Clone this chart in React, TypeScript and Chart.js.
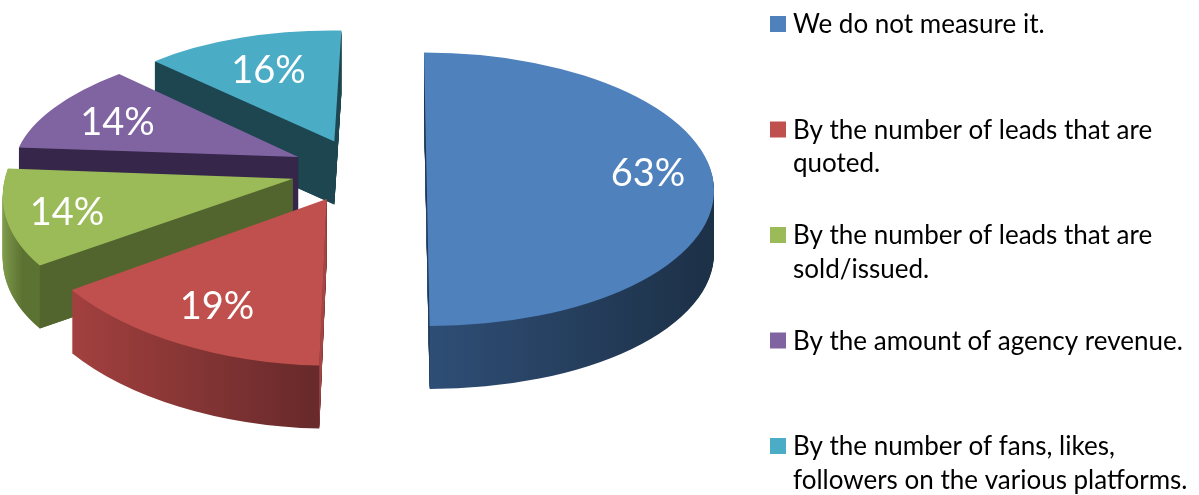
import React, { useEffect, useRef } from "react";
import { Chart, registerables } from "chart.js";

Chart.register(...registerables);

// Survey answers; respondents could choose several, so shares do not total 100.
const categories: string[][] = [
  ["We do not measure it."],
  ["By the number of leads that are", "quoted."],
  ["By the number of leads that are", "sold/issued."],
  ["By the amount of agency revenue."],
  ["By the number of fans, likes,", "followers on the various platforms."],
];
const values = [63, 19, 14, 14, 16];

const topColors = ["#4f81bd", "#c0504d", "#9bbb59", "#8064a2", "#4bacc6"];
const wallLight = ["#2f4e76", "#a4413f", "#8aa853", "#4a3a60", "#2a6474"];
const wallDark = ["#1c3046", "#692a2b", "#5c7232", "#2f2140", "#1c404b"];
const cutColors = ["#1d3550", "#a44744", "#53652f", "#35264a", "#1e4651"];
const labelReach = [0.77, 0.74, 0.79, 0.74, 0.7];

// Projection of the pie plane onto the canvas.
const VIEW = {
  vanishX: 400,
  centerU: -41,
  centerY: 170,
  squash: 0.467,
  perspective: 4.9e-4,
  widenFront: 3.1e-4,
  widenBack: 4.3e-4,
  radius: 287,
  explode: 68,
  depth: 63,
  labelDrop: 4,
};

const FONT = "Lato, Carlito, sans-serif";
const LEGEND = { swatchX: 770, textX: 793, top: 16, step: 105.5, swatch: 16, line: 33.5, size: 26, drop: 17 };

type Pt = { x: number; y: number };

const project = (u: number, v: number): Pt => {
  const w = 1 / (1 - VIEW.perspective * v);
  const wx = 1 / (1 - (v > 0 ? VIEW.widenFront : VIEW.widenBack) * v);
  return { x: VIEW.vanishX + (VIEW.centerU + u) * wx, y: VIEW.centerY + VIEW.squash * v * w };
};

// Point of an exploded slice at polar position (angle, r), in plane coordinates.
const planePoint = (mid: number, angle: number, r: number) => ({
  u: VIEW.explode * Math.cos(mid) + r * Math.cos(angle),
  v: VIEW.explode * Math.sin(mid) + r * Math.sin(angle),
});

// Affine map sending the arc's canvas coordinates onto three projected points of its slice.
function sliceMatrix(el: any) {
  const mid = (el.startAngle + el.endAngle) / 2;
  const half = el.endAngle - el.startAngle > Math.PI * 0.9;
  const R = el.outerRadius;
  const refs: [number, number][] = [
    [el.startAngle, R],
    [el.endAngle, R],
    half ? [mid, R] : [mid, 0],
  ];
  const L = refs.map(([a, r]) => ({ x: el.x + r * Math.cos(a), y: el.y + r * Math.sin(a) }));
  const S = refs.map(([a, r]) => {
    const p = planePoint(mid, a, r);
    return project(p.u, p.v);
  });
  // A half pie keeps its rim centred between the two ends of the straight edge.
  if (half) S[2].y = (S[0].y + S[1].y) / 2;
  const l1 = { x: L[1].x - L[0].x, y: L[1].y - L[0].y };
  const l2 = { x: L[2].x - L[0].x, y: L[2].y - L[0].y };
  const s1 = { x: S[1].x - S[0].x, y: S[1].y - S[0].y };
  const s2 = { x: S[2].x - S[0].x, y: S[2].y - S[0].y };
  const det = l1.x * l2.y - l2.x * l1.y;
  const a = (s1.x * l2.y - s2.x * l1.y) / det;
  const c = (s2.x * l1.x - s1.x * l2.x) / det;
  const b = (s1.y * l2.y - s2.y * l1.y) / det;
  const d = (s2.y * l1.x - s1.y * l2.x) / det;
  return { a, b, c, d, e: S[0].x - a * L[0].x - c * L[0].y, f: S[0].y - b * L[0].x - d * L[0].y };
}

const exploded3d = {
  id: "exploded3d",
  // The slices are painted here so each can take its own perspective transform.
  beforeDatasetDraw(chart: any) {
    const ctx: CanvasRenderingContext2D = chart.ctx;
    const arcs: any[] = chart.getDatasetMeta(0).data;
    const mids = arcs.map((el) => (el.startAngle + el.endAngle) / 2);
    const order = arcs
      .map((el, i) => {
        const p = planePoint(mids[i], 0, 0);
        return { i, y: project(p.u, p.v).y };
      })
      .sort((p, q) => p.y - q.y);

    for (const { i } of order) {
      const el = arcs[i];
      const mid = mids[i];
      const R = el.outerRadius;
      const m = sliceMatrix(el);
      const base = el.options;

      // Horizontal extent of the rim sets the span of the wall shading.
      let minX = Infinity;
      let maxX = -Infinity;
      for (let t = 0; t <= 24; t++) {
        const a = el.startAngle + ((el.endAngle - el.startAngle) * t) / 24;
        const p = planePoint(mid, a, R);
        const s = project(p.u, p.v);
        minX = Math.min(minX, s.x);
        maxX = Math.max(maxX, s.x);
      }
      const det = m.a * m.d - m.b * m.c;
      const toLocal = (x: number, y: number): Pt => ({
        x: (m.d * (x - m.e) - m.c * (y - m.f)) / det,
        y: (m.a * (y - m.f) - m.b * (x - m.e)) / det,
      });
      const g0 = toLocal(minX, VIEW.centerY);
      const g1 = toLocal(maxX, VIEW.centerY);
      const wall = ctx.createLinearGradient(g0.x, g0.y, g1.x, g0.y);
      wall.addColorStop(0, wallLight[i]);
      wall.addColorStop(1, wallDark[i]);

      // Side wall: the slice stacked downward.
      el.options = { ...base, backgroundColor: wall, borderWidth: 0 };
      for (let d = VIEW.depth; d >= 1; d--) {
        ctx.save();
        ctx.translate(0, d);
        ctx.transform(m.a, m.b, m.c, m.d, m.e, m.f);
        el.draw(ctx);
        ctx.restore();
      }

      // Cut faces that turn toward the viewer.
      const apexP = planePoint(mid, 0, 0);
      const apex = project(apexP.u, apexP.v);
      const rimP = planePoint(mid, mid, R);
      const rimMid = project(rimP.u, rimP.v);
      for (const edgeAngle of [el.startAngle, el.endAngle]) {
        const p = planePoint(mid, edgeAngle, R);
        const e = project(p.u, p.v);
        const dx = e.x - apex.x;
        const dy = e.y - apex.y;
        const inner = dx * (rimMid.y - apex.y) - dy * (rimMid.x - apex.x);
        if (inner * -dx <= 0) continue;
        ctx.fillStyle = cutColors[i];
        ctx.beginPath();
        ctx.moveTo(apex.x, apex.y);
        ctx.lineTo(e.x, e.y);
        ctx.lineTo(e.x, e.y + VIEW.depth);
        ctx.lineTo(apex.x, apex.y + VIEW.depth);
        ctx.closePath();
        ctx.fill();
      }

      // Top surface.
      el.options = base;
      ctx.save();
      ctx.transform(m.a, m.b, m.c, m.d, m.e, m.f);
      el.draw(ctx);
      ctx.restore();
    }
    return false;
  },
  afterDatasetsDraw(chart: any) {
    const ctx: CanvasRenderingContext2D = chart.ctx;
    const arcs: any[] = chart.getDatasetMeta(0).data;
    ctx.save();
    // Percentages on the slices.
    ctx.fillStyle = "#ffffff";
    ctx.font = `38px ${FONT}`;
    ctx.textAlign = "center";
    ctx.textBaseline = "middle";
    arcs.forEach((el, i) => {
      const mid = (el.startAngle + el.endAngle) / 2;
      const p = planePoint(mid, mid, el.outerRadius * labelReach[i]);
      const s = project(p.u, p.v);
      ctx.fillText(`${values[i]}%`, s.x, s.y + VIEW.labelDrop);
    });
    // Legend column.
    ctx.textAlign = "left";
    ctx.textBaseline = "alphabetic";
    ctx.font = `${LEGEND.size}px ${FONT}`;
    categories.forEach((lines, i) => {
      const top = LEGEND.top + i * LEGEND.step;
      ctx.fillStyle = topColors[i];
      ctx.fillRect(LEGEND.swatchX, top, LEGEND.swatch, LEGEND.swatch);
      ctx.fillStyle = "#000000";
      lines.forEach((line, k) => ctx.fillText(line, LEGEND.textX, top + LEGEND.drop + k * LEGEND.line));
    });
    ctx.restore();
  },
};

export default function App() {
  const ref = useRef<HTMLCanvasElement>(null);
  useEffect(() => {
    const chart = new Chart(ref.current!, {
      type: "pie",
      data: {
        labels: categories.map((c) => c.join(" ")),
        datasets: [{ data: values, backgroundColor: topColors, borderWidth: 0 }],
      },
      options: {
        responsive: false,
        animation: false,
        events: [],
        radius: VIEW.radius,
        plugins: { legend: { display: false }, tooltip: { enabled: false } },
      } as any,
      plugins: [exploded3d],
    });
    return () => chart.destroy();
  }, []);
  return (
    <canvas
      ref={ref}
      width={1199}
      height={495}
      style={{ position: "absolute", left: 0, top: 0, display: "block" }}
    />
  );
}
